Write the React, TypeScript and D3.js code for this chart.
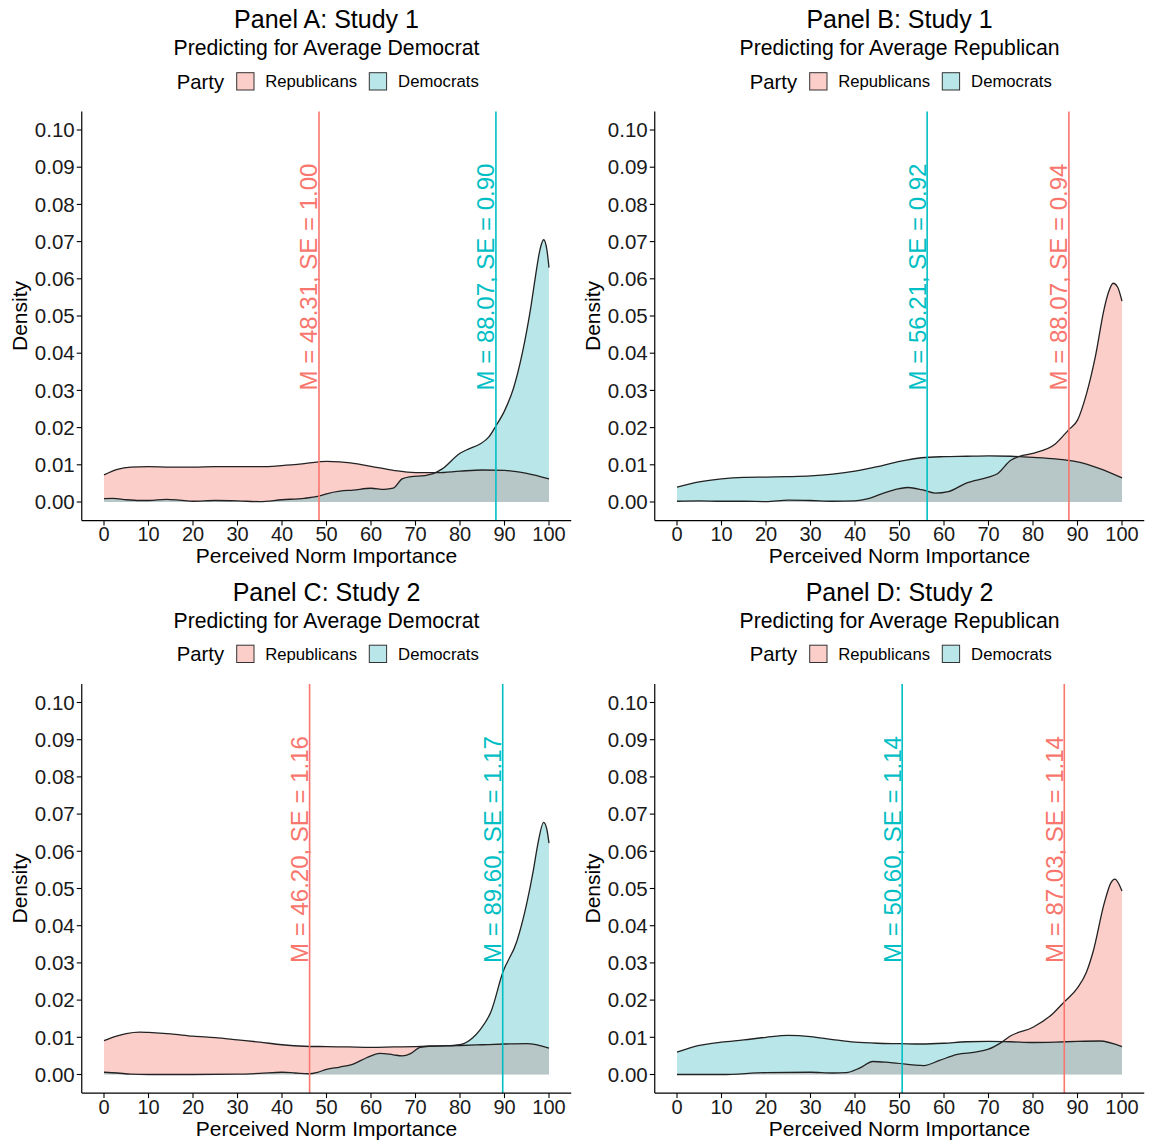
import React from "react";
import * as d3 from "d3";

type Pt = [number, number];

// ---------- Data ----------
const xTicks = [0, 10, 20, 30, 40, 50, 60, 70, 80, 90, 100];
const yTicks = [0, 0.01, 0.02, 0.03, 0.04, 0.05, 0.06, 0.07, 0.08, 0.09, 0.1];

const repA: Pt[] = [[0,.0073],[3,.0088],[6,.0094],[10,.0095],[15,.0094],[20,.0094],[25,.0095],[30,.0095],[35,.0095],[40,.0098],[45,.0103],[50,.0109],[53,.0108],[56,.0104],[60,.0096],[65,.0085],[70,.0079],[75,.0079],[80,.0083],[85,.0086],[90,.0085],[95,.0077],[100,.0062]];
const demA: Pt[] = [[0,.0009],[2,.0010],[5,.0006],[8,.0004],[10,.0004],[14,.0007],[17,.0005],[20,.0002],[25,.0004],[30,.0003],[35,.0001],[40,.0006],[45,.001],[48,.0015],[50,.0022],[53,.0029],[56,.0032],[60,.0037],[63,.0034],[65,.0037],[67,.0062],[69,.0068],[72,.0071],[74,.0076],[76,.0089],[80,.0131],[82,.0143],[84.5,.0156],[86.5,.0175],[88,.0203],[90,.0245],[92,.0305],[94,.040],[96,.053],[97,.061],[98,.068],[98.8,.0705],[99.5,.068],[100,.063]];

const demB: Pt[] = [[0,.004],[5,.0054],[10,.0062],[15,.0066],[20,.0067],[25,.0068],[30,.007],[35,.0075],[40,.0083],[45,.0095],[50,.0109],[55,.0119],[60,.0122],[65,.0123],[70,.0124],[75,.0123],[80,.012],[85,.0116],[88,.0112],[90,.0108],[95,.009],[100,.0065]];
const repB: Pt[] = [[0,.0002],[5,.0003],[10,.0002],[15,.0002],[20,.0001],[25,.0005],[30,.0004],[35,.0002],[40,.0003],[43,.0009],[46,.0022],[50,.0036],[52,.0039],[55,.0033],[58,.0024],[61,.0028],[65,.0051],[70,.0067],[72,.0076],[75,.0112],[77,.0123],[80,.0131],[85,.0156],[88,.0194],[90,.022],[92,.029],[94,.039],[96,.052],[97,.0565],[98,.0588],[99,.0578],[100,.054]];

const repC: Pt[] = [[0,.0091],[3,.0104],[5,.011],[8,.0114],[10,.0113],[15,.0109],[20,.0103],[25,.0099],[30,.0093],[35,.0087],[40,.008],[45,.0076],[50,.0075],[55,.0074],[60,.0073],[65,.0074],[70,.0075],[75,.0077],[80,.0078],[85,.008],[90,.0082],[95,.0083],[100,.0071]];
const demC: Pt[] = [[0,.0006],[3,.0004],[6,.0001],[10,0],[20,0],[30,.0001],[35,.0003],[40,.0006],[43,.0004],[46,.0002],[48,.0006],[50,.0014],[53,.002],[56,.0028],[59,.0045],[62,.0057],[65,.0053],[67,.005],[69,.0057],[71,.0073],[73,.0076],[77,.0077],[80,.008],[82.8,.0098],[84.5,.012],[87,.017],[89.6,.0274],[92.8,.0359],[95,.046],[96.5,.055],[97.5,.062],[98.8,.0678],[99.5,.066],[100,.0622]];

const demD: Pt[] = [[0,.006],[5,.0078],[10,.0087],[15,.0093],[20,.01],[25,.0105],[30,.0102],[35,.0094],[40,.0087],[45,.0084],[50,.0083],[55,.0082],[60,.0084],[65,.0088],[70,.0089],[75,.0088],[80,.0086],[85,.0087],[90,.0089],[95,.009],[100,.0075]];
const repD: Pt[] = [[0,0],[10,0],[20,.0005],[30,.0006],[35,.0004],[38,.0005],[41,.0017],[44,.0035],[48,.0032],[55.5,.0024],[59,.0038],[63,.0054],[67,.006],[70,.0068],[73,.0087],[75,.0104],[80,.0127],[84.3,.0162],[87,.0195],[90,.0233],[92,.0275],[93.5,.033],[96,.046],[97.5,.0515],[98.4,.0525],[99.3,.0512],[100,.0493]];

const titles = ["Panel A: Study 1", "Panel B: Study 1", "Panel C: Study 2", "Panel D: Study 2"];
const subtitles = ["Predicting for Average Democrat", "Predicting for Average Republican", "Predicting for Average Democrat", "Predicting for Average Republican"];
const repMeans = [48.31, 88.07, 46.20, 87.03];
const repSE = [1.00, 0.94, 1.16, 1.14];
const demMeans = [88.07, 56.21, 89.60, 50.60];
const demSE = [0.90, 0.92, 1.17, 1.14];
const repSeries = [repA, repB, repC, repD];
const demSeries = [demA, demB, demC, demD];
const legendLabels = ["Republicans", "Democrats"];

// ---------- Style ----------
const FONT = "'Liberation Sans', Arial, Helvetica, sans-serif";
const RED = "#F8766D";
const TEAL = "#00BFC4";
const REP_FILL = "#F8766D";
const DEM_FILL = "rgb(60,186,191)";
const FILL_OP = 0.36;

const offsets: Pt[] = [[0, 0], [573, 0], [0, 572.5], [573, 572.5]];

function Panel({ i }: { i: number }) {
  const [dx, dy] = offsets[i];
  const x = d3.scaleLinear().domain([-5, 105]).range([81.75, 571.25]);
  const y = d3.scaleLinear().domain([-0.005, 0.105]).range([520.6, 111.4]);
  const area = d3.area<Pt>().x(d => x(d[0])).y0(y(0)).y1(d => y(d[1])).curve(d3.curveMonotoneX);
  const line = d3.line<Pt>().x(d => x(d[0])).y(d => y(d[1])).curve(d3.curveMonotoneX);
  const [x0, x1] = x.range();
  const [yb, yt] = y.range();
  const cx = (x0 + x1) / 2;
  const cy = (yb + yt) / 2;
  const means = [
    { m: repMeans[i], se: repSE[i], c: RED },
    { m: demMeans[i], se: demSE[i], c: TEAL },
  ];
  return (
    <g transform={`translate(${dx},${dy})`} fontFamily={FONT}>
      <text x={cx} y={28.3} textAnchor="middle" fontSize={25} fill="#000">{titles[i]}</text>
      <text x={cx} y={55} textAnchor="middle" fontSize={21.2} fill="#000">{subtitles[i]}</text>
      {/* legend */}
      <g>
        <text x={cx - 149.8} y={88.6} fontSize={20.3} fill="#000">Party</text>
        <rect x={cx - 89.8} y={72.7} width={17.3} height={17.3} fill={REP_FILL} fillOpacity={FILL_OP} stroke="#333" strokeWidth={1} />
        <text x={cx - 61.3} y={87.3} fontSize={16.7} fill="#000">{legendLabels[0]}</text>
        <rect x={cx + 42.8} y={72.7} width={17.3} height={17.3} fill={DEM_FILL} fillOpacity={FILL_OP} stroke="#333" strokeWidth={1} />
        <text x={cx + 71.6} y={87.3} fontSize={16.7} fill="#000">{legendLabels[1]}</text>
      </g>
      {/* densities */}
      <path d={area(repSeries[i]) || ""} fill={REP_FILL} fillOpacity={FILL_OP} />
      <path d={area(demSeries[i]) || ""} fill={DEM_FILL} fillOpacity={FILL_OP} />
      <path d={line(repSeries[i]) || ""} fill="none" stroke="#222" strokeWidth={1.3} />
      <path d={line(demSeries[i]) || ""} fill="none" stroke="#222" strokeWidth={1.3} />
      {/* mean lines */}
      {means.map((mm, k) => (
        <g key={k}>
          <line x1={x(mm.m)} x2={x(mm.m)} y1={yt} y2={yb} stroke={mm.c} strokeWidth={1.6} />
          <text
            transform={`translate(${x(mm.m) - 1.5},${y(0.03)}) rotate(-90)`}
            fontSize={24}
            fill={mm.c}
          >{`M = ${mm.m.toFixed(2)}, SE = ${mm.se.toFixed(2)}`}</text>
        </g>
      ))}
      {/* axes */}
      <line x1={x0} x2={x0} y1={yt} y2={yb} stroke="#000" strokeWidth={1.2} />
      <line x1={x0} x2={x1} y1={yb} y2={yb} stroke="#000" strokeWidth={1.2} />
      {yTicks.map(t => (
        <g key={t}>
          <line x1={x0 - 5} x2={x0} y1={y(t)} y2={y(t)} stroke="#000" strokeWidth={1.1} />
          <text x={x0 - 7} y={y(t) + 7.2} textAnchor="end" fontSize={20.5} fill="#1a1a1a">{t.toFixed(2)}</text>
        </g>
      ))}
      {xTicks.map(t => (
        <g key={t}>
          <line x1={x(t)} x2={x(t)} y1={yb} y2={yb + 5} stroke="#000" strokeWidth={1.1} />
          <text x={x(t)} y={541} textAnchor="middle" fontSize={20} fill="#1a1a1a">{t}</text>
        </g>
      ))}
      <text x={cx} y={563} textAnchor="middle" fontSize={21} fill="#000">Perceived Norm Importance</text>
      <text transform={`translate(27,${cy}) rotate(-90)`} textAnchor="middle" fontSize={21} fill="#000">Density</text>
    </g>
  );
}

export default function App() {
  return (
    <svg width={1155} height={1140} style={{ position: "absolute", left: 0, top: 0, background: "#fff" }}>
      <rect width={1155} height={1140} fill="#fff" />
      {[0, 1, 2, 3].map(i => <Panel key={i} i={i} />)}
    </svg>
  );
}
